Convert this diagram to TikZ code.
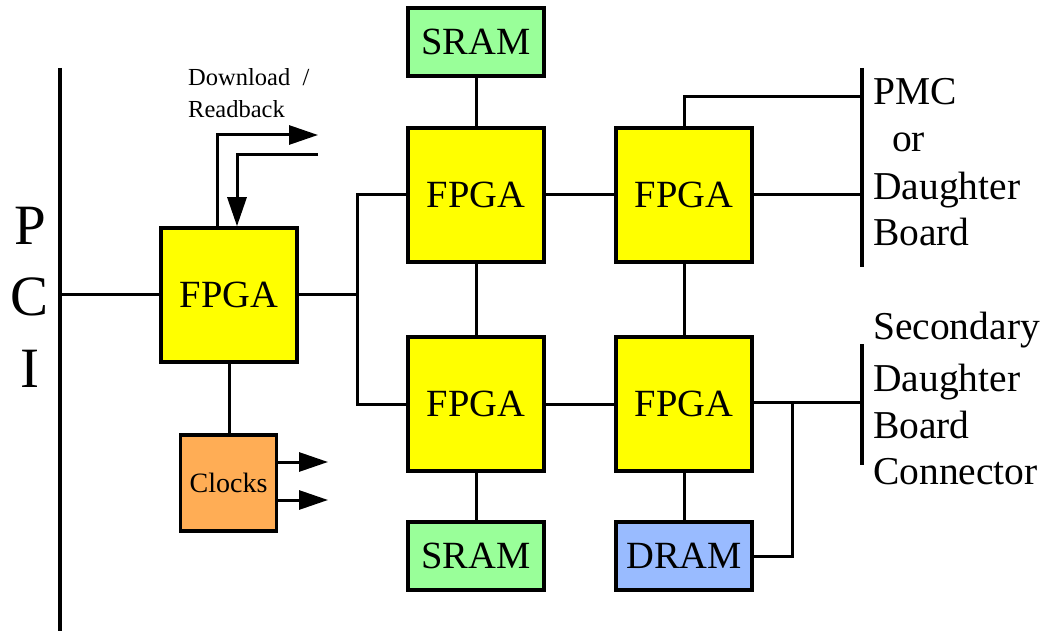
\documentclass[tikz,border=0pt]{standalone}
\usepackage{fontspec}
\setmainfont{Liberation Serif}
\usetikzlibrary{arrows.meta}

\definecolor{fpgaY}{HTML}{FFFF00}
\definecolor{sramG}{HTML}{99FF99}
\definecolor{dramB}{HTML}{99BBFF}
\definecolor{clkO}{HTML}{FFAD55}

\tikzset{
  blk/.style={draw=black, line width=3.5pt, inner sep=0pt,
              font=\fontsize{38.5}{40}\selectfont},
  fpga/.style={blk, fill=fpgaY, minimum width=136pt, minimum height=134pt},
  mem/.style={blk, minimum width=136pt, minimum height=68pt},
  clkbox/.style={blk, fill=clkO, minimum width=96pt, minimum height=96pt,
                 font=\fontsize{28}{30}\selectfont},
  wire/.style={line width=3pt},
  bus/.style={line width=3.5pt},
  sig/.style={wire, -{Triangle[length=29pt,width=19pt]}},
  lbl/.style={anchor=base west, inner sep=0pt, font=\fontsize{39.5}{41}\selectfont},
  small/.style={anchor=base west, inner sep=0pt, font=\fontsize{24.5}{26}\selectfont},
  pci/.style={anchor=base, inner sep=0pt, font=\fontsize{57}{60}\selectfont}
}

\begin{document}
\begin{tikzpicture}[x=1pt,y=-1pt]
\useasboundingbox (0,0) rectangle (1045,631);

% PCI bus
\coordinate (pciT) at (60,68);
\coordinate (pciB) at (60,631);
\draw[bus] (pciT) -- (pciB);
\node[pci] (pP) at (30,245) {P};
\node[pci] (pC) at (30,316) {C};
\node[pci] (pI) at (30,387) {I};

% blocks
\node[fpga] (main) at (229,295) {FPGA};
\node[clkbox] (clk) at (228.5,483) {Clocks};
\node[fpga] (tl) at (476,195) {FPGA};
\node[fpga] (tr) at (684,195) {FPGA};
\node[fpga] (bl) at (476,404) {FPGA};
\node[fpga] (br) at (684,404) {FPGA};
\node[mem, fill=sramG] (sramT) at (476,42) {SRAM};
\node[mem, fill=sramG] (sramB) at (476,556) {SRAM};
\node[mem, fill=dramB] (dram) at (684,556) {DRAM};

% daughter board connectors
\coordinate (pmcT) at (862,68);
\coordinate (pmcB) at (862,267);
\coordinate (secT) at (862,344);
\coordinate (secB) at (862,465);
\draw[bus] (pmcT) -- (pmcB);
\draw[bus] (secT) -- (secB);

\node[lbl] (t1) at (873,105) {PMC};
\node[lbl] (t2) at (892,152) {or};
\node[lbl] (t3) at (873,200) {Daughter};
\node[lbl] (t4) at (873,246) {Board};

\node[lbl] (s1) at (873,340) {Secondary};
\node[lbl] (s2) at (873,391) {Daughter};
\node[lbl] (s3) at (873,438) {Board};
\node[lbl] (s4) at (873,484) {Connector};

% PCI to the first FPGA
\draw[wire] (pciT |- main.west) -- (main.west);

% fan-out to the FPGA array
\coordinate (jn) at (357,295);
\draw[wire] (main.east) -- (jn);
\draw[wire] (tl.west) -| (jn) |- (bl.west);

% array links
\draw[wire] (tl.east) -- (tr.west);
\draw[wire] (bl.east) -- (br.west);
\draw[wire] (tl.south) -- (bl.north);
\draw[wire] (tr.south) -- (br.north);
\draw[wire] (sramT.south) -- (tl.north);
\draw[wire] (bl.south) -- (sramB.north);
\draw[wire] (br.south) -- (dram.north);

% links to the connectors
\coordinate (pmcTop) at (862,97);
\draw[wire] (tr.north) |- (pmcTop);
\draw[wire] (tr.east) -- (pmcT |- tr.east);
\coordinate (secMid) at (862,402);
\coordinate (tap) at (792,402);
\draw[wire] (br.east |- secMid) -- (secMid);
\draw[wire] (dram.east) -| (tap);

% download / readback
\coordinate (dlEnd) at (318,135);
\coordinate (rbStart) at (318,155);
\draw[sig] ([xshift=-12pt]main.north) |- (dlEnd);
\draw[sig] (rbStart) -| ([xshift=8pt]main.north);
\node[small] (dl1) at (188,86) {Download\hspace{0.5em}/};
\node[small] (dl2) at (188,118) {Readback};

% clock outputs
\draw[wire] (main.south) -- (main.south |- clk.north);
\coordinate (ck1) at (328,462);
\coordinate (ck2) at (328,500);
\draw[sig] (clk.east |- ck1) -- (ck1);
\draw[sig] (clk.east |- ck2) -- (ck2);
\end{tikzpicture}
\end{document}
